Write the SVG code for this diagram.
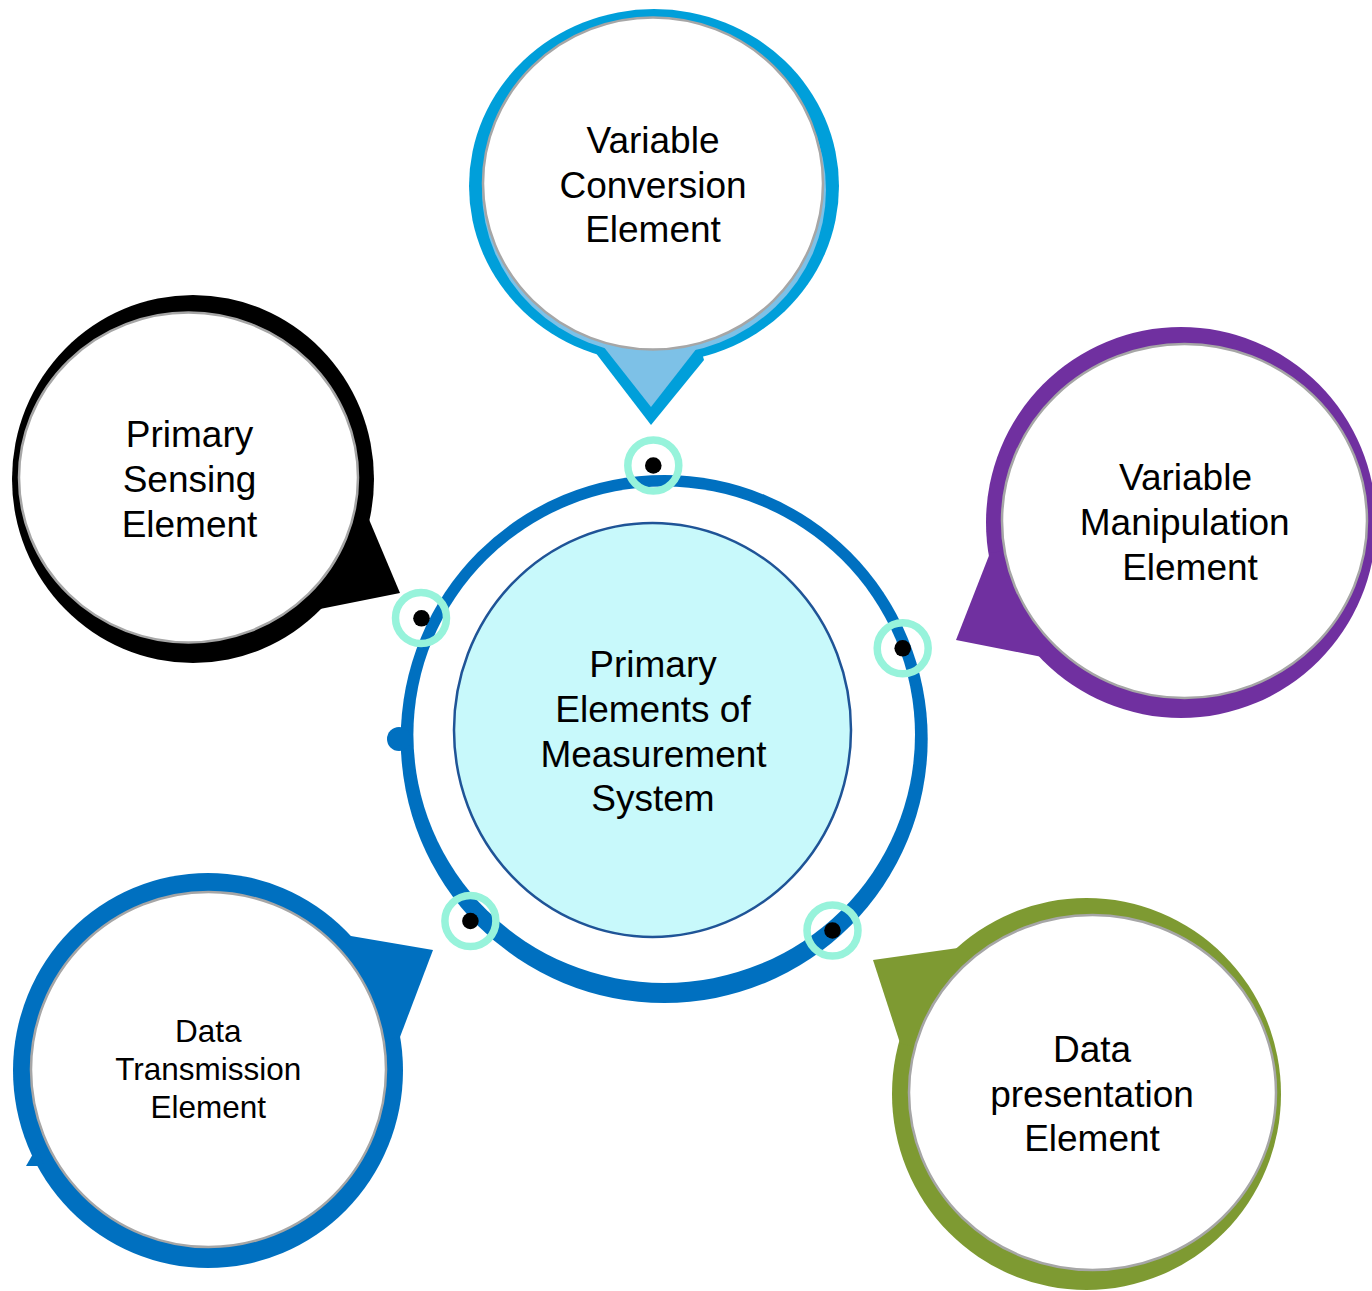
<svg xmlns="http://www.w3.org/2000/svg" width="1372" height="1291" viewBox="0 0 1372 1291">
  <style>
    .label { font-family: "Liberation Sans", Arial, Helvetica, sans-serif; font-size: 37px; fill: #000; text-anchor: middle; }
    .small { font-size: 31.5px; }
    .face { fill: #ffffff; stroke: #a6a6a6; stroke-width: 2.5; }
    .anchor { fill: none; stroke: #97f3db; stroke-width: 7.5; }
    .pin { fill: #000; }
  </style>

  <rect width="1372" height="1291" fill="#ffffff"/>

  <!-- central hub: thick blue ring with cyan core -->
  <g id="hub">
    <ellipse cx="664.2" cy="739" rx="263.5" ry="264" fill="#0070c0"/>
    <ellipse cx="664.2" cy="734.8" rx="250.8" ry="248.2" fill="#ffffff"/>
    <circle cx="399" cy="739" r="12" fill="#0070c0"/>
    <ellipse cx="652.5" cy="730" rx="198.5" ry="207" fill="#c8f9fb" stroke="#1f5497" stroke-width="2.5"/>
    <text class="label" x="653" y="677">Primary</text>
    <text class="label" x="653" y="722">Elements of</text>
    <text class="label" x="653.5" y="767">Measurement</text>
    <text class="label" x="653" y="811">System</text>
  </g>

  <!-- anchor points on the hub ring -->
  <g id="connectors">
    <circle class="anchor" cx="653.3" cy="465.5" r="25.5"/>
    <circle class="pin" cx="653.3" cy="465.5" r="8.3"/>
    <circle class="anchor" cx="421" cy="618" r="25.5"/>
    <circle class="pin" cx="421.5" cy="618.3" r="8.3"/>
    <circle class="anchor" cx="902.7" cy="648.3" r="25.5"/>
    <circle class="pin" cx="902.7" cy="648.3" r="8.3"/>
    <circle class="anchor" cx="470.4" cy="921" r="25.5"/>
    <circle class="pin" cx="470.4" cy="921" r="8.3"/>
    <circle class="anchor" cx="832.5" cy="930.5" r="25.5"/>
    <circle class="pin" cx="832.5" cy="930.5" r="8.3"/>
  </g>

  <!-- Variable Conversion Element (top, pointer down) -->
  <g id="node-variable-conversion">
    <ellipse cx="654" cy="186" rx="185" ry="177" fill="#009fda"/>
    <polygon points="595,352 651,425 704,360 654,186" fill="#009fda"/>
    <ellipse cx="654" cy="190" rx="172" ry="165" fill="#7dc1e7"/>
    <polygon points="603,346 651,407 697,348 650,300" fill="#7dc1e7"/>
    <ellipse class="face" cx="653" cy="183.5" rx="170" ry="166"/>
    <text class="label" x="653" y="153">Variable</text>
    <text class="label" x="653" y="197.5">Conversion</text>
    <text class="label" x="653" y="242">Element</text>
  </g>

  <!-- Primary Sensing Element (upper left, pointer to lower right) -->
  <g id="node-primary-sensing">
    <ellipse cx="193" cy="479" rx="181" ry="184" fill="#000000"/>
    <polygon points="368,517 400,593 315,610 193,479" fill="#000000"/>
    <ellipse class="face" cx="188.5" cy="477.5" rx="169.5" ry="165"/>
    <text class="label" x="189.5" y="446.7">Primary</text>
    <text class="label" x="189.5" y="491.7">Sensing</text>
    <text class="label" x="189.5" y="536.7">Element</text>
  </g>

  <!-- Variable Manipulation Element (right, pointer to lower left) -->
  <g id="node-variable-manipulation">
    <ellipse cx="1181" cy="522.5" rx="195" ry="195.5" fill="#7030a0"/>
    <polygon points="990,553 956,640 1042,657 1181,522" fill="#7030a0"/>
    <ellipse class="face" cx="1184.5" cy="521" rx="182.5" ry="177"/>
    <text class="label" x="1185.5" y="489.5">Variable</text>
    <text class="label" x="1184.7" y="534.5">Manipulation</text>
    <text class="label" x="1190" y="579.5">Element</text>
  </g>

  <!-- Data Transmission Element (lower left, pointer to upper right) -->
  <g id="node-data-transmission">
    <ellipse cx="208" cy="1070.5" rx="195" ry="197.5" fill="#0070c0"/>
    <polygon points="345,935 433,950 400,1037 208,1070" fill="#0070c0"/>
    <polygon points="26,1166 37,1147 44,1166" fill="#0070c0"/>
    <ellipse class="face" cx="208.5" cy="1069.5" rx="177.5" ry="177.5"/>
    <text class="label small" x="208.3" y="1041.7">Data</text>
    <text class="label small" x="208.3" y="1080">Transmission</text>
    <text class="label small" x="208.3" y="1118.3">Element</text>
  </g>

  <!-- Data presentation Element (lower right, pointer to upper left) -->
  <g id="node-data-presentation">
    <ellipse cx="1086.5" cy="1094" rx="194.5" ry="196" fill="#7e9a32"/>
    <polygon points="965,947 873,960 900,1043 1086,1094" fill="#7e9a32"/>
    <ellipse class="face" cx="1092.5" cy="1092.5" rx="183.5" ry="177.5"/>
    <text class="label" x="1092" y="1061.7">Data</text>
    <text class="label" x="1092" y="1106.7">presentation</text>
    <text class="label" x="1092" y="1151">Element</text>
  </g>
</svg>
